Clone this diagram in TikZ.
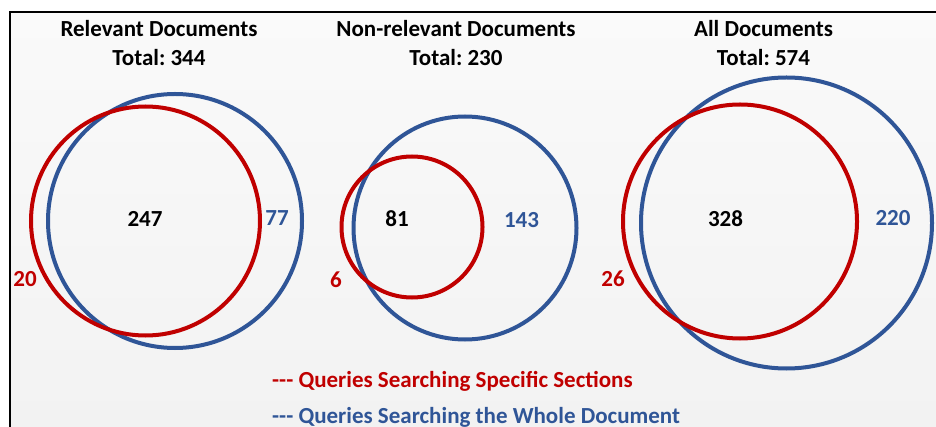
\documentclass[tikz,border=0pt]{standalone}
\usepackage{fontspec}
\setmainfont{Carlito}
\frenchspacing
\definecolor{vred}{HTML}{C00000}
\definecolor{vblue}{HTML}{2F5597}
\definecolor{bgtop}{HTML}{FAFAFA}
\definecolor{bgbot}{HTML}{F2F2F2}
\tikzset{
  redring/.style={draw=vred, line width=4pt},
  bluering/.style={draw=vblue, line width=4pt},
  ttl/.style={font=\fontsize{23}{27}\selectfont\bfseries, inner sep=0pt, anchor=base},
  num/.style={font=\fontsize{23}{27}\selectfont\bfseries, inner sep=0pt, anchor=center},
  lgd/.style={font=\fontsize{23}{27}\selectfont\bfseries, inner sep=0pt, anchor=base west},
}
\newcommand{\tridash}{\mbox{-}\mbox{-}\mbox{-}}
\begin{document}
\begin{tikzpicture}[x=1pt,y=-1pt]
\useasboundingbox (0,0) rectangle (936,427);
\fill[white] (0,0) rectangle (936,427);
\shade[top color=bgtop, bottom color=bgbot] (10,12) rectangle (936,427);
\draw[line width=2pt, black] (10,427) -- (10,12) -- (936,12);

% circles
\draw[bluering] (175,221) circle[radius=127pt];
\draw[redring]  (145.5,221) circle[radius=114.5pt];
\draw[bluering] (465,228) circle[radius=111.5pt];
\draw[redring]  (412,227) circle[radius=70.5pt];
\draw[bluering] (786.5,223) circle[radius=145.5pt];
\draw[redring]  (740,221.5) circle[radius=117pt];

% titles
\node[ttl] (t1a) at (159,37) {Relevant Documents};
\node[ttl] (t1b) at (159,66) {Total: 344};
\node[ttl] (t2a) at (456,37) {Non-relevant Documents};
\node[ttl] (t2b) at (456,66) {Total: 230};
\node[ttl] (t3a) at (763.5,37) {All Documents};
\node[ttl] (t3b) at (763.5,66) {Total: 574};

% numbers
\node[num] (n1) at (145,218.5) {247};
\node[num, text=vblue] (b1) at (277,218.5) {77};
\node[num, text=vred] (r1) at (25,279.5) {20};
\node[num] (n2) at (397,218.5) {81};
\node[num, text=vblue] (b2) at (521.5,220.5) {143};
\node[num, text=vred] (r2) at (336,279.5) {6};
\node[num] (n3) at (725.5,218.5) {328};
\node[num, text=vblue] (b3) at (893,218.5) {220};
\node[num, text=vred] (r3) at (613,278.5) {26};

% legend
\node[lgd, text=vred] (l1) at (272,387) {\tridash{} Queries Searching Specific Sections};
\node[lgd, text=vblue] (l2) at (272,423) {\tridash{} Queries Searching the Whole Document};
\end{tikzpicture}
\end{document}
